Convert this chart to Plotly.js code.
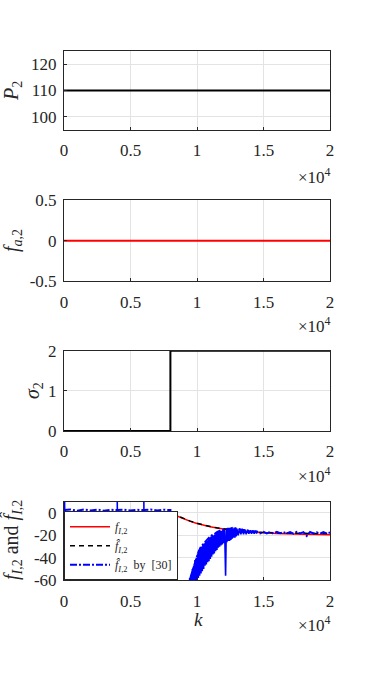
<!DOCTYPE html>
<html><head><meta charset="utf-8">
<script src="https://cdn.plot.ly/plotly-3.0.1.min.js"></script>
<style>html,body{margin:0;padding:0;background:#fff}</style>
</head><body><div id="chart" style="width:366px;height:685px"></div>
<script>
// ---- data ----
const kTicks = [0, 5000, 10000, 15000, 20000];
const kTickText = ["0", "0.5", "1", "1.5", "2"];

const p2K = [0, 20000];
const p2Val = [110, 110];

const fa2K = [0, 20000];
const fa2Val = [0, 0];

const sigmaK = [0, 8000, 8000, 20000];
const sigmaVal = [0, 0, 2, 2];

const fIK = [0, 8000, 8500, 9000, 9500, 10000, 10500, 11000, 11500, 12000, 12500, 13000, 14000, 15000, 16000, 18000, 20000];
const fIVal = [0, 0, -2.8, -5.3, -7.5, -9.4, -11, -12.3, -13.5, -14.5, -15.3, -16, -17, -17.7, -18.3, -19, -19.4];

const fIHatK = [0, 8000, 8500, 9000, 9500, 10000, 10500, 11000, 11500, 12000, 12500, 13000, 14000, 15000, 16000, 18000, 20000];
const fIHatVal = [0, 0, -2.5, -5, -7.3, -9.2, -10.8, -12.1, -13.3, -14.3, -15.1, -15.8, -16.8, -17.4, -17.8, -18.2, -18.4];

// estimate by [30]: smooth part (dash-dot)
const fRefK = [0, 100, 500, 1000, 1500, 2000, 2500, 3000, 3500, 4000, 4500, 5000, 5500, 6000, 6500, 7000, 7500, 7950, 8000, 8050, 9300,
  9400, 9500, 9700, 9900, 10100, 10300, 10500, 10700, 10900, 11100, 11300, 11500, 11700, 11900, 12100, 12300, 12500, 12700, 12900,
  13100, 13300, 13500, 13700, 13900, 14100, 14300, 14500, 14750, 15000, 15250, 15500, 15750, 16000, 16250, 16500, 16750, 17000, 17250,
  17500, 17750, 18000, 18250, 18500, 18750, 19000, 19250, 19500, 19750, 20000];
const fRefVal = [2.5, 2.5, 3, 2, 3, 2.2, 3, 2, 2.8, 2.5, 3, 2.2, 2.8, 2.5, 3, 2.2, 2.8, 2.5, 2.5, -100, -100,
  -80, -58, -50, -42, -35, -30, -27, -25, -22, -20, -19, -17, -16, -15, -15, -14, -14, -13, -14,
  -14, -15, -15, -15.5, -16, -16, -16.5, -16.5, -18.3, -16.8, -18.2, -17, -18.4, -16.9, -18.1, -17.2, -18.3, -17, -18.5,
  -16.8, -18.2, -17.1, -20.5, -17, -18.3, -17.2, -18.4, -17, -18.2, -17.5];

// estimate by [30]: fast oscillating part (dense, drawn solid)
const fRefNoiseK = [40, 50, 60, 70, 80, null, 4000, 4010, 4020, 4030, 4040, null, 6000, 6010, 6020, 6030, 6040, null,
  9400, 9450, 9500, 9550, 9600, 9650, 9700, 9750, 9800, 9850, 9900, 9950, 10000, 10050, 10100, 10150, 10200, 10250, 10300, 10350,
  10400, 10450, 10500, 10550, 10600, 10650, 10700, 10750, 10800, 10850, 10900, 10950, 11000, 11050, 11100, 11150, 11200, 11250,
  11300, 11350, 11400, 11450, 11500, 11550, 11600, 11650, 11700, 11750, 11800, 11850, 11900, 11950, 12000, 12050, 12100, 12150,
  12200, 12250, 12300, 12350, 12400, 12450, 12500, 12550, 12600, 12650, 12700, 12750, 12800, 12850, 12900, 12950, 13000, 13100,
  13200, 13300, 13400, 13500, 13600, 13700, 13800, 13900, 14000, 14100, 14200, 14300, 14400, 14500];
const fRefNoiseVal = [15, -25, 15, -25, 2.5, null, 15, -25, 15, -25, 2.5, null, 15, -25, 15, -25, 2.5, null,
  -80, -58, -74, -55, -72, -50, -68, -47, -66, -42, -63, -40, -60, -36, -58, -33, -56, -31, -54, -30,
  -52, -28, -50, -27, -47, -26, -46, -25, -44, -23, -43, -22, -41, -21, -39, -20, -37, -20, -36,
  -19, -34, -18, -33, -17, -31, -17, -30, -16, -29, -16, -28, -15, -27, -15, -27, -56, -15, -26,
  -15, -25, -14, -25, -14, -24, -14, -23, -14, -22, -13, -22, -13, -21, -14, -20, -14, -19,
  -14, -19, -15, -19, -15, -18.5, -15.5, -18.5, -16, -18.5, -16, -18.5, -16.5, -18.5, -16.5];

const legendNames = [
  "<i>f</i><sub><i>I</i>,2</sub>",
  "<i>f&#770;</i><sub><i>I</i>,2</sub>",
  "<i>f&#770;</i><sub><i>I</i>,2</sub>  by  [30]"
];
const yTitles = [
  "<i>P</i><sub>2</sub>",
  "<i>f</i><sub><i>a</i>,2</sub>",
  "<i>&#963;</i><sub>2</sub>",
  "<i>f</i><sub><i>I</i>,2</sub> and <i>f&#770;</i><sub><i>I</i>,2</sub>"
];

// ---- layout helpers ----
const FONT = "Liberation Serif";
const AX = '#262626';
const W = 366, H = 685;
const xDom = [64 / W, 330 / W];
const yDoms = [[51, 130], [200, 281.3], [350.7, 431], [501.7, 580.3]].map(([t, b]) => [1 - b / H, 1 - t / H]);

function xax(anchor) {
  return {
    domain: xDom, range: [0, 20000], anchor: anchor,
    tickvals: kTicks, ticktext: kTickText,
    showgrid: true, gridcolor: '#e3e3e3', gridwidth: 1,
    showline: true, mirror: true, linecolor: AX, linewidth: 1,
    ticks: 'inside', ticklen: 3, tickcolor: AX, ticklabelstandoff: 5,
    tickfont: {family: FONT, size: 17, color: AX},
    zeroline: false, fixedrange: true
  };
}
function yax(anchor, dom, range, vals, text) {
  return {
    domain: dom, range: range, anchor: anchor,
    tickvals: vals, ticktext: text,
    showgrid: true, gridcolor: '#e3e3e3', gridwidth: 1,
    showline: true, mirror: true, linecolor: AX, linewidth: 1,
    ticks: 'inside', ticklen: 3, tickcolor: AX, ticklabelstandoff: 3,
    tickfont: {family: FONT, size: 17, color: AX},
    zeroline: false, fixedrange: true
  };
}

const traces = [
  {x: p2K, y: p2Val, xaxis: 'x', yaxis: 'y', mode: 'lines', line: {color: '#000', width: 2}, showlegend: false},
  {x: fa2K, y: fa2Val, xaxis: 'x2', yaxis: 'y2', mode: 'lines', line: {color: '#ff0000', width: 2}, showlegend: false},
  {x: sigmaK, y: sigmaVal, xaxis: 'x3', yaxis: 'y3', mode: 'lines', line: {color: '#000', width: 2}, showlegend: false},
  {x: fIK, y: fIVal, xaxis: 'x4', yaxis: 'y4', mode: 'lines', name: legendNames[0], line: {color: '#ff0000', width: 1.5}},
  {x: fIHatK, y: fIHatVal, xaxis: 'x4', yaxis: 'y4', mode: 'lines', name: legendNames[1], line: {color: '#000', width: 1.5, dash: '5px,4px'}},
  {x: fRefK, y: fRefVal, xaxis: 'x4', yaxis: 'y4', mode: 'lines', name: legendNames[2], line: {color: '#0000ff', width: 2, dash: '7px,2px,2px,2px'}},
  {x: fRefNoiseK, y: fRefNoiseVal, xaxis: 'x4', yaxis: 'y4', mode: 'lines', showlegend: false, connectgaps: false, line: {color: '#0000ff', width: 1.6}}
];

function ann(x, y, text, size, angle, xanchor) {
  return {xref: 'paper', yref: 'paper', x: x / W, y: 1 - y / H, text: text, showarrow: false,
    textangle: angle || 0, xanchor: xanchor || 'center', yanchor: 'middle',
    font: {family: FONT, size: size, color: AX}};
}

const layout = {
  width: W, height: H,
  margin: {l: 0, r: 0, t: 0, b: 0},
  paper_bgcolor: '#fff', plot_bgcolor: '#fff',
  font: {family: FONT, color: AX},
  xaxis: xax('y'), xaxis2: xax('y2'), xaxis3: xax('y3'), xaxis4: xax('y4'),
  yaxis: yax('x', yDoms[0], [95, 125], [100, 110, 120], ["100", "110", "120"]),
  yaxis2: yax('x2', yDoms[1], [-0.5, 0.5], [-0.5, 0, 0.5], ["-0.5", "0", "0.5"]),
  yaxis3: yax('x3', yDoms[2], [0, 2], [0, 1, 2], ["0", "1", "2"]),
  yaxis4: yax('x4', yDoms[3], [-60, 10], [-60, -40, -20, 0], ["-60", "-40", "-20", "0"]),
  showlegend: true,
  legend: {x: 64 / W, y: 1 - 580.3 / H, xanchor: 'left', yanchor: 'bottom',
    bgcolor: '#fff', bordercolor: AX, borderwidth: 1,
    font: {family: FONT, size: 12, color: AX}, itemwidth: 40, tracegroupgap: 0},
  annotations: [
    ann(12, 91, yTitles[0], 20, -90),
    ann(13, 241, yTitles[1], 20, -90),
    ann(33, 391, yTitles[2], 20, -90),
    ann(12, 540, yTitles[3], 20, -90),
    ann(333, 176, "&#215;10<sup>4</sup>", 17, 0, 'right'),
    ann(333, 325, "&#215;10<sup>4</sup>", 17, 0, 'right'),
    ann(333, 475, "&#215;10<sup>4</sup>", 17, 0, 'right'),
    ann(333, 624, "&#215;10<sup>4</sup>", 17, 0, 'right'),
    ann(198, 619, "<i>k</i>", 19, 0)
  ]
};

Plotly.newPlot('chart', traces, layout, {staticPlot: true, displayModeBar: false});
</script>
</body></html>
